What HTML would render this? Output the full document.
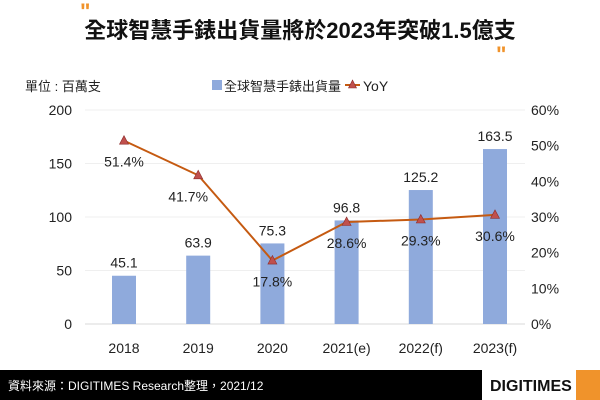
<!DOCTYPE html>
<html><head><meta charset="utf-8"><style>
body{margin:0;width:600px;height:400px;background:#fff;overflow:hidden;font-family:"Liberation Sans","Noto Sans CJK TC",sans-serif}
</style></head><body>
<svg width="600" height="400" style="position:absolute;left:0;top:0;font-family:'Liberation Sans','Noto Sans CJK TC',sans-serif">
<text x="80" y="19" fill="#f0932b" font-size="22" font-weight="bold">"</text>
<text x="300" y="38" text-anchor="middle" font-size="22" font-weight="bold" fill="#111">全球智慧手錶出貨量將於2023年突破1.5億支</text>
<text x="496" y="62" fill="#f0932b" font-size="22" font-weight="bold">"</text>
<text x="25" y="91" font-size="13" fill="#222">單位 : 百萬支</text>
<rect x="212" y="80" width="10" height="10" fill="#8faadc"/>
<text x="224" y="91" font-size="13" fill="#222">全球智慧手錶出貨量</text>
<line x1="345" y1="85" x2="360" y2="85" stroke="#c55a11" stroke-width="2"/>
<polygon points="352.5,80 356.5,88 348.5,88" fill="#c0504d" stroke="#8b2a2a" stroke-width="0.6"/>
<text x="363" y="91" font-size="14" fill="#222">YoY</text>
<g id="plot"></g>
<rect x="0" y="370" width="482" height="30" fill="#000"/>
<text x="8" y="390" font-size="12" fill="#fff">資料來源：DIGITIMES Research整理，2021/12</text>
<text x="490" y="391" font-size="16" font-weight="bold" fill="#111">DIGITIMES</text>
<rect x="576" y="370" width="24" height="30" fill="#f0932b"/>
</svg>
<script>
const categories=["2018","2019","2020","2021(e)","2022(f)","2023(f)"];
const shipments=[45.1,63.9,75.3,96.8,125.2,163.5];
const yoy=[51.4,41.7,17.8,28.6,29.3,30.6];
const leftTicks=[0,50,100,150,200];
const rightTicks=[0,10,20,30,40,50,60];
const labelShift=[0,-10,0,0,0,0];
const NS="http://www.w3.org/2000/svg";
const g=document.getElementById("plot");
const x0=124,step=74.2,yTop=110,yBot=324;
const xs=i=>x0+i*step;
const yL=v=>yBot-(v/200)*(yBot-yTop);
const yR=v=>yBot-(v/60)*(yBot-yTop);
function mk(t,a,txt){const e=document.createElementNS(NS,t);for(const k in a)e.setAttribute(k,a[k]);if(txt!==undefined)e.textContent=txt;g.appendChild(e);return e;}
leftTicks.forEach(v=>{
const gl=mk("line",{x1:85,x2:525,y1:yL(v),y2:yL(v),stroke:v===0?"#d9d9d9":"#efefef","stroke-width":1});


const e=mk("text",{x:72,y:yL(v)+5,"text-anchor":"end","font-size":14,fill:"#222"},v);

});
rightTicks.forEach(v=>{const e=mk("text",{x:531,y:yR(v)+5,"font-size":14,fill:"#222"},v+"%");

});
shipments.forEach((v,i)=>{
const r=mk("rect",{x:xs(i)-12,y:yL(v),width:24,height:yBot-yL(v),fill:"#8faadc"});


const t=mk("text",{x:xs(i),y:yL(v)-8,"text-anchor":"middle","font-size":14,fill:"#222"},v.toFixed(1));


const c=mk("text",{x:xs(i),y:353,"text-anchor":"middle","font-size":14,fill:"#222"},categories[i]);


});
const line=mk("polyline",{points:yoy.map((v,i)=>xs(i)+","+yR(v)).join(" "),fill:"none",stroke:"#c55a11","stroke-width":2});


yoy.forEach((v,i)=>{
const x=xs(i),y=yR(v);
const p=mk("polygon",{points:`${x},${y-5} ${x+4.5},${y+3.5} ${x-4.5},${y+3.5}`,fill:"#c0504d",stroke:"#8b2a2a","stroke-width":0.6});


const t=mk("text",{x:x+labelShift[i],y:y+26,"text-anchor":"middle","font-size":14,fill:"#222"},v.toFixed(1)+"%");


});
</script>
</body></html>
